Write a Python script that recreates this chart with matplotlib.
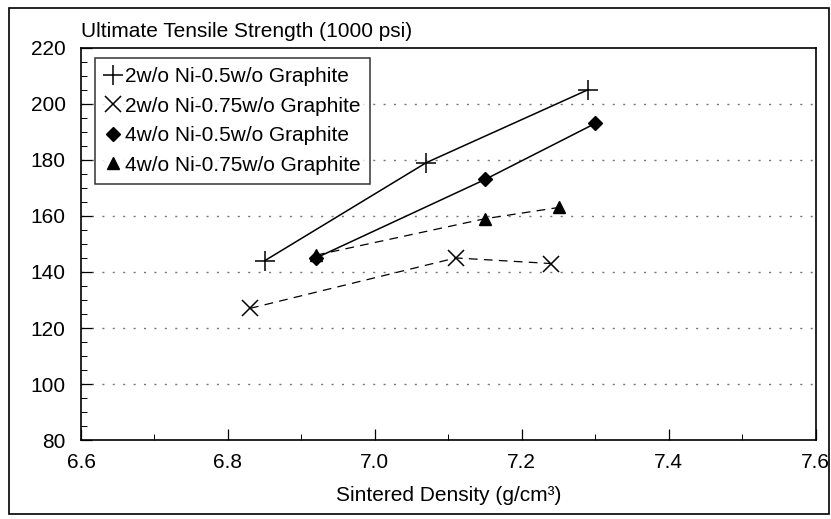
import matplotlib.pyplot as plt
from matplotlib.lines import Line2D
from matplotlib.patches import Rectangle
from matplotlib.ticker import MultipleLocator

plt.rcParams['font.family'] = ['Liberation Sans', 'DejaVu Sans']

ni2_gr05_x = [6.85, 7.07, 7.29]
ni2_gr05_y = [144, 179, 205]
ni2_gr075_x = [6.83, 7.11, 7.24]
ni2_gr075_y = [127, 145, 143]
ni4_gr05_x = [6.92, 7.15, 7.30]
ni4_gr05_y = [145, 173, 193]
ni4_gr075_x = [6.92, 7.15, 7.25]
ni4_gr075_y = [146, 159, 163]

labels = ["2w/o Ni-0.5w/o Graphite", "2w/o Ni-0.75w/o Graphite",
          "4w/o Ni-0.5w/o Graphite", "4w/o Ni-0.75w/o Graphite"]
x_ticks = [6.6, 6.8, 7.0, 7.2, 7.4, 7.6]
x_tick_labels = ["6.6", "6.8", "7.0", "7.2", "7.4", "7.6"]
y_ticks = [80, 100, 120, 140, 160, 180, 200, 220]

fig = plt.figure(figsize=(8.31, 5.19), dpi=100)
ax = fig.add_axes([0.0975, 0.152, 0.884, 0.756])

fs = 15
lw = 1.1

ax.plot(ni2_gr05_x, ni2_gr05_y, color='black', linestyle='-', linewidth=lw,
        marker='+', markersize=14, markeredgewidth=1.1, clip_on=False)
ax.plot(ni2_gr075_x, ni2_gr075_y, color='black', linestyle=(0, (7, 5)), linewidth=0.9,
        marker='x', markersize=11, markeredgewidth=1.1, clip_on=False)
ax.plot(ni4_gr075_x, ni4_gr075_y, color='black', linestyle=(0, (7, 5)), linewidth=0.9,
        marker='^', markersize=9, clip_on=False)
ax.plot(ni4_gr05_x, ni4_gr05_y, color='black', linestyle='-', linewidth=lw,
        marker='D', markersize=7, clip_on=False)

ax.set_xlim(6.6, 7.6)
ax.set_ylim(80, 220)
ax.set_xticks(x_ticks)
ax.set_xticklabels(x_tick_labels)
ax.set_yticks(y_ticks)
ax.xaxis.set_minor_locator(MultipleLocator(0.1))
ax.yaxis.set_minor_locator(MultipleLocator(5))
ax.tick_params(which='major', direction='in', length=8, width=0.9, labelsize=fs)
ax.tick_params(which='minor', direction='in', length=4, width=0.7)
ax.tick_params(axis='y', which='both', right=False, pad=11)
ax.tick_params(axis='x', which='both', top=False, pad=9)

for y in y_ticks[1:-1]:
    ax.axhline(y, color='#777777', linestyle=(0, (1.5, 6)), linewidth=1.0, zorder=0)

for s in ax.spines.values():
    s.set_linewidth(1.2)

ax.set_xlabel("Sintered Density (g/cm³)", fontsize=fs, labelpad=10)
fig.text(0.097, 0.94, "Ultimate Tensile Strength (1000 psi)", fontsize=fs, va='center', ha='left')

handles = [
    Line2D([], [], color='black', linestyle='', marker='+', markersize=14, markeredgewidth=1.1),
    Line2D([], [], color='black', linestyle='', marker='x', markersize=11, markeredgewidth=1.1),
    Line2D([], [], color='black', linestyle='', marker='D', markersize=7),
    Line2D([], [], color='black', linestyle='', marker='^', markersize=9),
]
leg = ax.legend(handles, labels, loc='upper left', bbox_to_anchor=(0.019, 0.974),
                fontsize=fs, frameon=True, fancybox=False, handlelength=0.8,
                handletextpad=0.2, labelspacing=0.5, borderpad=0.45, borderaxespad=0.0)
leg.get_frame().set_edgecolor('black')
leg.get_frame().set_linewidth(1.1)

fig.patches.append(Rectangle((0.011, 0.01), 0.986, 0.975, transform=fig.transFigure,
                             fill=False, edgecolor='black', linewidth=1.2))

fig.savefig("out.png", dpi=100)
